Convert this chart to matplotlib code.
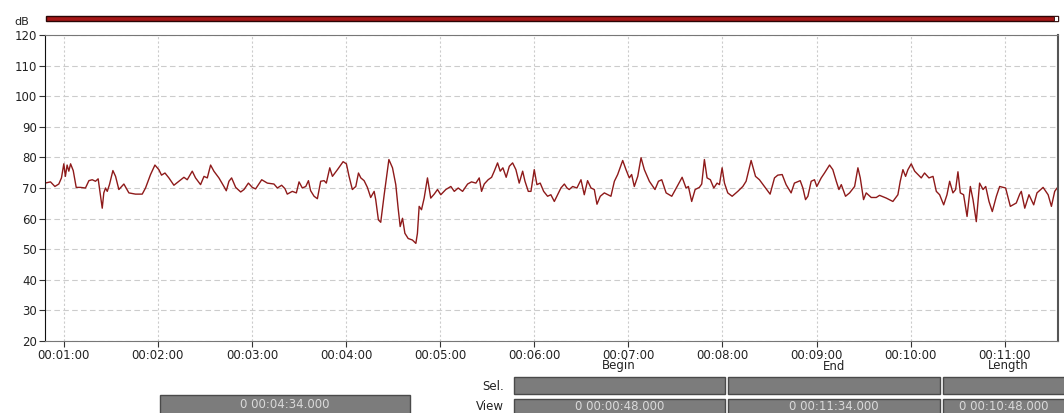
import matplotlib
matplotlib.use("Agg")
import matplotlib.pyplot as plt
from matplotlib.patches import Rectangle

W, H = 1064, 413

# sound level trace, time in seconds / level in dB
times = [48, 51.5, 54.3, 56.8, 58.5, 60, 61, 62.1, 63.2, 64.3, 66, 67.9, 70.6, 73.8, 76, 78.1,
         80.2, 81.9, 83, 84.5, 85.5, 86.6, 87.7, 89.1, 91.3, 93, 95.1, 98.3, 101.5, 105.7, 110,
         112.1, 115.3, 118.1, 120.6, 122.3, 124.5, 127, 130.2, 133.4, 136.6, 138.7, 141.9, 144,
         147.2, 149.4, 151.5, 153.6, 155.7, 158.9, 162.1, 163.6, 165.3, 167, 169.6, 172.8, 174.9,
         177.7, 180.2, 182.3, 186.2, 189.8, 194, 196.2, 198.9, 201, 202.5, 205.7, 208.3, 210,
         212.1, 214.3, 216, 217.4, 219.6, 221.7, 223.8, 226, 227.4, 229.6, 231.3, 234.5, 238.1,
         240.2, 241.9, 244, 246.2, 247.9, 249.4, 251.5, 253.6, 255.7, 257.9, 258.9, 260.6, 262.1,
         264.3, 267.3, 269.6, 271.7, 273.2, 274.5, 276, 277.5, 279.6, 282.3, 284.5, 285.5, 286.6,
         288.1, 289.8, 291.9, 294, 296.2, 298.3, 300.4, 303.6, 306.8, 309, 311.5, 314.3, 317.5,
         320, 322.8, 324.9, 326.4, 328.1, 330.6, 332.8, 334.5, 336.6, 338.3, 340, 342.1, 344.1,
         346.2, 348.3, 350.4, 352.6, 354.1, 356.2, 357.9, 360, 361.7, 363.8, 366, 368.5, 370.6,
         372.8, 374.9, 377, 379.2, 380.9, 382.3, 384.5, 387.2, 389.8, 391.9, 394, 396.2, 398.3,
         400, 402.1, 404.7, 408.9, 411.1, 413.2, 416.4, 418.5, 420.6, 422.1, 423.8, 426, 428.1,
         430.2, 433.4, 437, 439.2, 441.3, 444.1, 447.7, 451.1, 454.3, 456.8, 458.3, 460.4, 462.6,
         465.3, 466.8, 468.5, 470.2, 472.3, 474.5, 476.6, 478.1, 479.8, 481.3, 483.4, 486.2,
         489.8, 493, 495.1, 498.3, 501.1, 503.6, 506.8, 510.4, 513.2, 515.3, 518.1, 520.6, 523.8,
         525.9, 529.6, 531.3, 533, 534.5, 536.6, 538.7, 540.2, 543, 545.1, 548.3, 550.4, 552.6,
         554.3, 555.8, 558.5, 561.1, 564.3, 566.4, 567.9, 570, 571.7, 574.9, 578.1, 580.2, 584.5,
         588.7, 591.9, 593.4, 595.1, 596.8, 598.3, 600.4, 602.6, 604.7, 606.8, 608.9, 611.7,
         614.3, 616.4, 618.5, 621.1, 623.2, 624.9, 627, 628.7, 630.2, 631.7, 633.8, 636, 638.1,
         639.8, 641.9, 644, 646.2, 647.9, 650, 652.1, 654.7, 656.8, 660.6, 663.6, 667.4, 669.6,
         670.6, 672.8, 675.5, 678.5, 680.6, 684.5, 687.7, 689.8, 691.9, 693.4, 695.1]
levels = [71.6, 72, 70.5, 71.3, 73.3, 77.9, 73.8, 77.5, 75.5, 77.9, 75.7, 70.2, 70.2, 70, 72.4, 72.7,
          72.2, 73, 68.9, 63.4, 68.4, 70, 68.9, 71.1, 75.7, 73.8, 69.5, 71.3, 68.4, 68, 68,
          70, 74.4, 77.5, 76, 74.2, 74.9, 73.3, 70.9, 72.2, 73.5, 72.7, 75.5, 73.3,
          71.1, 73.8, 73.3, 77.5, 75.5, 73.3, 70.5, 69.1, 72.2, 73.3, 70.2, 68.7, 69.5,
          71.6, 70.2, 69.7, 72.7, 71.6, 71.3, 70, 70.9, 69.8, 68, 68.9, 68.4, 72,
          70, 70.5, 72.4, 69.1, 67.3, 66.5, 72.2, 72.4, 71.6, 76.6, 73.8, 76, 78.6,
          77.9, 73.8, 69.5, 70.5, 74.9, 73.3, 72.4, 70.2, 66.9, 68.9, 66.2, 59.6, 58.8,
          67.8, 79.3, 76.6, 71.1, 63.4, 57.4, 60.1, 55.2, 53.5, 53, 51.9, 55.2, 64,
          62.9, 66.7, 73.3, 66.7, 68, 69.5, 67.8, 69.5, 70.5, 68.9, 70, 68.9, 71.3,
          72, 71.6, 73.3, 68.9, 71.3, 72.7, 73.5, 75.5, 78.2, 75.5, 76.6, 73.5, 77.1,
          78.2, 76, 71.6, 75.5, 72.2, 68.9, 68.9, 76, 71.1, 71.6, 68.9, 67.3, 67.8,
          65.6, 67.8, 70, 71.3, 70, 69.5, 70.5, 70, 72.7, 67.8, 72.4, 70, 69.5,
          64.7, 67.3, 68.4, 67.3, 72.2, 74.4, 79, 76, 73.3, 74.4, 70.5, 73.8, 79.9,
          76, 72.2, 69.5, 72.2, 72.7, 68.4, 67.3, 70.5, 73.5, 70, 70.5, 65.6, 69.5,
          70.2, 71.3, 79.3, 73.3, 72.7, 70, 71.6, 71.1, 76.6, 71.6, 68.4, 67.3,
          68.9, 70.5, 72.2, 79, 73.8, 72.7, 70.5, 68, 73.3, 74.2, 74.4, 71.1, 68.4,
          71.6, 72.4, 70, 66.2, 67.3, 72.2, 72.7, 70.5, 73.3, 74.9, 77.5, 76, 72.2,
          69.5, 71.1, 67.3, 68.4, 70.5, 76.6, 73.3, 66.2, 68.4, 66.9, 66.9, 67.6, 66.7,
          65.6, 67.8, 72.2, 76, 73.8, 76, 77.9, 75.5, 74.4, 73.3, 74.9, 73.3,
          73.8, 68.9, 67.8, 64.5, 67.8, 72.2, 68.4, 69.5, 75.3, 68.4, 67.8, 60.7, 70.5,
          66.2, 59, 71.6, 69.5, 70.5, 65.6, 62.3, 67.3, 70.5, 70, 64, 65.1, 68,
          68.9, 63.4, 67.8, 64.5, 68.4, 70.2, 67.8, 64, 68.9, 70, 68.4]

view_begin, view_end = 48, 694
tick_secs = [60, 120, 180, 240, 300, 360, 420, 480, 540, 600, 660]
tick_labels = ["00:01:00", "00:02:00", "00:03:00", "00:04:00", "00:05:00", "00:06:00",
               "00:07:00", "00:08:00", "00:09:00", "00:10:00", "00:11:00"]
y_ticks = [20, 30, 40, 50, 60, 70, 80, 90, 100, 110, 120]

cursor_text = "0 00:04:34.000"
col_heads = ["Begin", "End", "Length"]
view_texts = ["0 00:00:48.000", "0 00:11:34.000", "0 00:10:48.000"]

plt.rcParams['font.family'] = ['DejaVu Sans']

fig = plt.figure(figsize=(W / 100, H / 100), dpi=100)
fig.patch.set_facecolor("white")


def px_rect(x0, y0, x1, y1, **kw):
    r = Rectangle((x0 / W, 1 - y1 / H), (x1 - x0) / W, (y1 - y0) / H,
                  transform=fig.transFigure, **kw)
    fig.patches.append(r)
    return r


def px_text(x, y, s, **kw):
    fig.text(x / W, 1 - y / H, s, **kw)


ax = fig.add_axes([45 / W, 1 - 341 / H, (1058 - 45) / W, (341 - 35) / H])
ax.plot(times, levels, color="#8e1a1a", lw=1.0)
ax.set_xlim(view_begin, view_end)
ax.set_ylim(20, 120)
ax.set_yticks(y_ticks)
ax.set_xticks(tick_secs)
ax.set_xticklabels(tick_labels)
ax.tick_params(axis="both", direction="out", length=4, width=0.8, colors="#333333",
               labelsize=8.5, labelcolor="#222222", pad=1.5)
ax.grid(axis="y", color="#cccccc", linestyle=(0, (5, 3)), lw=0.8)
ax.grid(axis="x", color="#cccccc", linestyle=(0, (2, 2)), lw=0.8)
ax.spines["left"].set_color("#111111")
ax.spines["bottom"].set_color("#777777")
ax.spines["top"].set_color("#777777")
ax.spines["right"].set_color("#555555")
ax.spines["right"].set_linewidth(1.5)

# level bar on top
px_rect(46, 16, 1058, 21, facecolor="#a51616", edgecolor="#2a0606", lw=1.0)
px_rect(1054, 16, 1058, 21, facecolor="white", edgecolor="#2a0606", lw=0.6)
px_text(14, 22, "dB", fontsize=8, va="center", ha="left", color="#222222")

# selection / view panel
box_face, box_edge, box_txt = "#7c7c7c", "#4a4a4a", "#dadada"
cols = [(514, 725), (728, 940), (943, 1066)]
head_x = [619, 834, 1008]
for (x0, x1), hx, head, vt in zip(cols, head_x, col_heads, view_texts):
    px_text(hx, 366, head, fontsize=8.5, ha="center", va="center", color="#222222")
    px_rect(x0, 377, x1, 394, facecolor=box_face, edgecolor=box_edge, lw=1)
    px_rect(x0, 399, x1, 418, facecolor=box_face, edgecolor=box_edge, lw=1)
    px_text((x0 + min(x1, 1064)) / 2, 406, vt, fontsize=8.5, ha="center", va="center",
            color=box_txt)
px_text(504, 386, "Sel.", fontsize=8.5, ha="right", va="center", color="#222222")
px_text(504, 407, "View", fontsize=8.5, ha="right", va="center", color="#222222")

px_rect(160, 395, 410, 418, facecolor=box_face, edgecolor=box_edge, lw=1)
px_text(285, 405, cursor_text, fontsize=8.5, ha="center", va="center", color=box_txt)

fig.savefig("out.png", dpi=100)
